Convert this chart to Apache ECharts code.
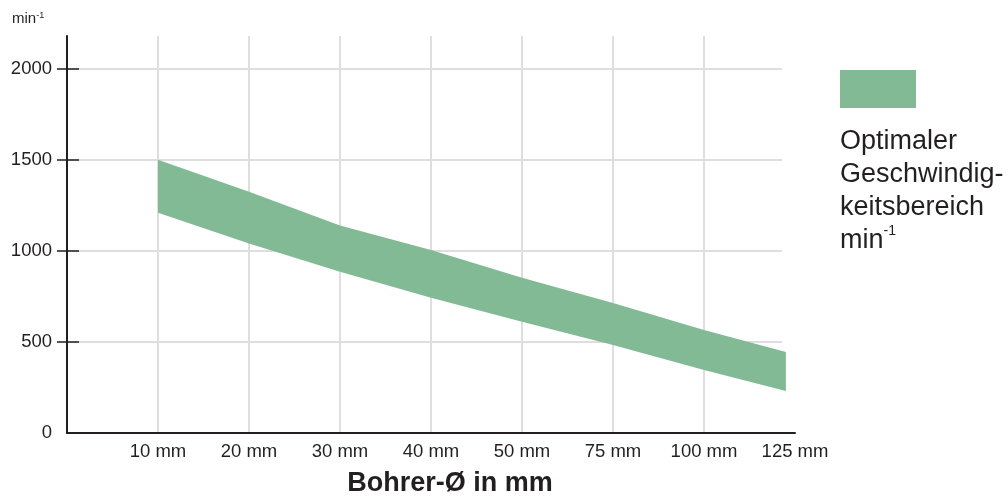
<!DOCTYPE html>
<html>
<head>
<meta charset="utf-8">
<script src="https://cdn.jsdelivr.net/npm/echarts@6/dist/echarts.min.js"></script>
<style>
  html, body { margin: 0; padding: 0; background: #fff; }
  #chart { width: 1007px; height: 496px; }
</style>
</head>
<body>
<div id="chart"></div>
<script>
// tick labels along the x axis (first slot is the empty origin)
const categories = ['', '10 mm', '20 mm', '30 mm', '40 mm', '50 mm', '75 mm', '100 mm', '125 mm'];
// band positions in category units, band ends a bit before the 125 mm slot
const bandPos = [1, 2, 3, 4, 5, 6, 7, 7.9];
const upperRpm = [1500, 1325, 1140, 1005, 852, 714, 566, 445];
const lowerRpm = [1210, 1040, 885, 742, 611, 483, 346, 231];
const yTicks = [0, 500, 1000, 1500, 2000];
const yMax = 2180;

const ink = '#231F20';
const green = '#83BA96';
const gridColor = '#DEDEDE';
const font = 'Liberation Sans, Arial, Helvetica, sans-serif';

const bandData = bandPos.map((x, i) => [x, lowerRpm[i], upperRpm[i]]);

// whole band drawn as one polygon, on the first item only
function renderBand(params, api) {
  if (params.dataIndex !== 0) return null;
  const top = bandData.map(d => api.coord([d[0], d[2]]));
  const bottom = bandData.map(d => api.coord([d[0], d[1]])).reverse();
  return {
    type: 'polygon',
    shape: { points: top.concat(bottom) },
    style: { fill: green }
  };
}

const chart = echarts.init(document.getElementById('chart'));

const option = {
  backgroundColor: '#fff',
  animation: false,
  textStyle: { fontFamily: font, color: ink },
  grid: [
    { left: 67, right: 212, top: 36, bottom: 63, outerBoundsMode: 'none', containLabel: false },
    // slightly shorter grid, only for the horizontal grid lines
    { left: 67, right: 225, top: 36, bottom: 63, outerBoundsMode: 'none', containLabel: false }
  ],
  xAxis: [
    {
      type: 'category',
      gridIndex: 0,
      data: categories,
      boundaryGap: false,
      axisLine: { lineStyle: { color: ink, width: 2 } },
      axisTick: { show: false },
      axisLabel: { fontSize: 18.5, color: ink, margin: 9, fontFamily: font },
      splitLine: {
        show: true,
        interval: (idx) => idx > 0 && idx < categories.length - 1,
        lineStyle: { color: gridColor, width: 2 }
      },
      name: 'Bohrer-Ø in mm',
      nameLocation: 'middle',
      nameGap: 37,
      nameTextStyle: {
        fontSize: 27, fontWeight: 'bold', color: ink, fontFamily: font,
        padding: [0, 0, 0, 38]
      }
    },
    {
      type: 'value',
      gridIndex: 0,
      min: 0,
      max: categories.length - 1,
      show: false
    },
    { type: 'value', gridIndex: 1, show: false }
  ],
  yAxis: [
    {
      type: 'value',
      gridIndex: 0,
      position: 'left',
      min: 0,
      max: yMax,
      interval: 500,
      z: 5,
      axisLine: { show: true, lineStyle: { color: ink, width: 2 } },
      axisTick: {
        show: true, inside: false, length: 10,
        customValues: yTicks.slice(1),
        lineStyle: { color: ink, width: 1.5 }
      },
      axisLabel: {
        fontSize: 18.5, color: ink, margin: 15, fontFamily: font,
        customValues: yTicks,
        formatter: v => String(v)
      },
      splitLine: { show: false }
    },
    {
      type: 'value',
      gridIndex: 0,
      position: 'left',
      offset: 0,
      min: 0,
      max: yMax,
      interval: 500,
      z: 5,
      axisLine: { show: false },
      axisTick: {
        show: true, inside: true, length: 12,
        customValues: yTicks.slice(1),
        lineStyle: { color: ink, width: 1.5 }
      },
      axisLabel: { show: false },
      splitLine: { show: false }
    },
    {
      type: 'value',
      gridIndex: 1,
      min: 0,
      max: yMax,
      interval: 500,
      axisLine: { show: false },
      axisTick: { show: false },
      axisLabel: { show: false },
      splitLine: {
        show: true,
        showMinLine: false,
        showMaxLine: false,
        lineStyle: { color: gridColor, width: 2 }
      }
    }
  ],
  series: [
    {
      name: 'Optimaler Geschwindigkeitsbereich',
      type: 'custom',
      xAxisIndex: 1,
      yAxisIndex: 0,
      renderItem: renderBand,
      encode: { x: 0, y: [1, 2] },
      data: bandData
    }
  ],
  graphic: [
    {
      type: 'text',
      left: 12,
      top: 11,
      style: {
        text: 'min{sup|-1}',
        font: '15px ' + font,
        fill: ink,
        rich: { sup: { fontSize: 9, verticalAlign: 'top', fill: ink, fontFamily: font } }
      }
    },
    {
      type: 'rect',
      left: 840,
      top: 70,
      shape: { width: 76, height: 38 },
      style: { fill: green }
    },
    {
      type: 'text',
      left: 840,
      top: 125,
      style: {
        text: 'Optimaler\nGeschwindig-\nkeitsbereich\nmin{sup|-1}',
        font: '27px ' + font,
        lineHeight: 33,
        fill: ink,
        rich: { sup: { fontSize: 14, verticalAlign: 'top', fill: ink, fontFamily: font, lineHeight: 33 } }
      }
    }
  ]
};

chart.setOption(option);
</script>
</body>
</html>
